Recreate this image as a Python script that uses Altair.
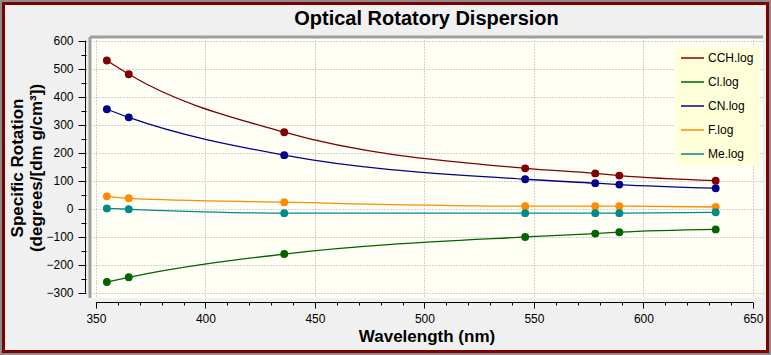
import altair as alt
import pandas as pd

# ---- data ----
wavelengths = [355, 365, 436, 546, 578, 589, 633]
series_names = ["CCH.log", "Cl.log", "CN.log", "F.log", "Me.log"]
cch = [529, 480, 273, 144, 126, 118, 100]
cl = [-262, -245, -162, -101, -89, -84, -74]
cn = [355, 326, 191, 105, 91, 86, 73]
f_ = [44, 37, 23, 9, 9, 9, 6]
me = [1, -2, -16, -16, -16, -16, -13]
series_colors = ["#800000", "#006400", "#00008B", "#FF8C00", "#008B8B"]
x_ticks = list(range(350, 651, 10))
y_ticks = list(range(-300, 601, 50))
x_axis_span = [350, 650]
y_axis_span = [-300, 600]

rows = []
for name, vals in zip(series_names, [cch, cl, cn, f_, me]):
    for w, v in zip(wavelengths, vals):
        rows.append({"series": name, "wavelength": w, "rotation": v})
df = pd.DataFrame(rows)

W, H = 673, 261
PL, PT = 90, 37
TOTW, TOTH = 771, 355
LABEL_FONT = "Liberation Sans"
BOLD_FONT = "Liberation Sans"

xscale = alt.Scale(domain=[347.3, 654.6], nice=False, zero=False)
yscale = alt.Scale(domain=[-319, 613], nice=False, zero=False)

xaxis = alt.Axis(
    values=x_ticks,
    labelExpr="datum.value % 50 === 0 ? datum.label : ''",
    tickSize={"condition": {"test": "datum.value % 50 === 0", "value": 6}, "value": 3},
    gridOpacity={"condition": {"test": "datum.value % 50 === 0", "value": 1}, "value": 0},
    grid=True, gridColor="#A8A8A8", gridDash=[1, 2], gridWidth=1,
    offset=4, domain=False, tickColor="#000000", tickWidth=1,
    labelFont=LABEL_FONT, labelFontSize=12, labelColor="#000000", labelPadding=5,
    title="Wavelength (nm)", titleFont=BOLD_FONT, titleFontSize=17, titleFontWeight="bold",
    titleColor="#000000", titlePadding=4, labelFlush=False, labelOverlap=False,
)
yaxis = alt.Axis(
    values=y_ticks,
    labelExpr="datum.value % 100 === 0 ? datum.label : ''",
    tickSize={"condition": {"test": "datum.value % 100 === 0", "value": 8}, "value": 5},
    gridOpacity={"condition": {"test": "datum.value % 100 === 0", "value": 1}, "value": 0},
    grid=True, gridColor="#A8A8A8", gridDash=[1, 2], gridWidth=1,
    offset=4, domain=False, tickColor="#000000", tickWidth=1,
    labelFont=LABEL_FONT, labelFontSize=12, labelColor="#000000", labelPadding=5,
    title=["Specific Rotation", "(degrees/[dm g/cm\u00b3])"], titleFont=BOLD_FONT,
    titleFontSize=17, titleFontWeight="bold", titleColor="#000000", titlePadding=0,
    titleLineHeight=19, labelFlush=False, labelOverlap=False,
)

X = alt.X("wavelength:Q", scale=xscale, axis=xaxis)
Y = alt.Y("rotation:Q", scale=yscale, axis=yaxis)

color = alt.Color(
    "series:N",
    scale=alt.Scale(domain=series_names, range=series_colors),
    legend=alt.Legend(
        title=None, orient="none", legendX=585, legendY=10,
        fillColor="#FFFFDA", strokeColor="#FFFFDA", padding=5,
        symbolType="M-2.3,0H2.3", symbolSize=100, symbolStrokeWidth=1.5,
        symbolOffset=6.5, labelOffset=9.5, rowPadding=12,
        labelFont=LABEL_FONT, labelFontSize=12, labelColor="#000000",
    ),
)

base = alt.Chart(df).encode(x=X, y=Y, color=color)
lines = base.mark_line(interpolate="monotone", strokeWidth=1.3)
points = base.mark_circle(size=62, opacity=1)

# axis lines spanning only the labelled range, as in the reference
x_span_df = pd.DataFrame({"wavelength": [x_axis_span[0]], "w2": [x_axis_span[1]]})
y_span_df = pd.DataFrame({"rotation": [y_axis_span[0]], "r2": [y_axis_span[1]]})
x_domain_line = alt.Chart(x_span_df).mark_rule(color="#000000", strokeWidth=1).encode(
    x=X, x2="w2:Q", y=alt.value(H + 4.5))
y_domain_line = alt.Chart(y_span_df).mark_rule(color="#000000", strokeWidth=1).encode(
    y=Y, y2="r2:Q", x=alt.value(-4.5))

deco = alt.Data(values=[{"k": 1}])
left_edge = alt.Chart(deco).mark_rule(color="#A0A0A0", strokeWidth=3).encode(
    x=alt.value(0), y=alt.value(0), y2=alt.value(H))
top_edge = alt.Chart(deco).mark_rule(color="#A0A0A0", strokeWidth=3).encode(
    x=alt.value(0), x2=alt.value(W), y=alt.value(0))
frame_red = alt.Chart(deco).mark_rect(fill=None, filled=False, stroke="#800000", strokeWidth=3).encode(
    x=alt.value(-PL + 3.5), x2=alt.value(TOTW - PL - 3.5),
    y=alt.value(-PT + 3.5), y2=alt.value(TOTH - PT - 3.5))
frame_gray = alt.Chart(deco).mark_rect(fill=None, filled=False, stroke="#8C8C8C", strokeWidth=2).encode(
    x=alt.value(-PL + 1), x2=alt.value(TOTW - PL - 1),
    y=alt.value(-PT + 1), y2=alt.value(TOTH - PT - 1))

chart = alt.layer(
    lines, points, x_domain_line, y_domain_line, left_edge, top_edge, frame_red, frame_gray
).properties(
    width=W, height=H,
    title=alt.TitleParams(
        "Optical Rotatory Dispersion", anchor="middle", frame="group",
        font=BOLD_FONT, fontSize=20, fontWeight="bold", color="#000000",
        offset=-45, baseline="alphabetic",
    ),
    padding={"left": PL, "top": PT, "right": TOTW - PL - W, "bottom": TOTH - PT - H},
    autosize=alt.AutoSizeParams(type="none"),
    background="#F0F0F0",
).configure_view(fill="#FFFFF6", stroke=None)

chart.save("out.html", embed_options={"renderer": "svg", "actions": False})
